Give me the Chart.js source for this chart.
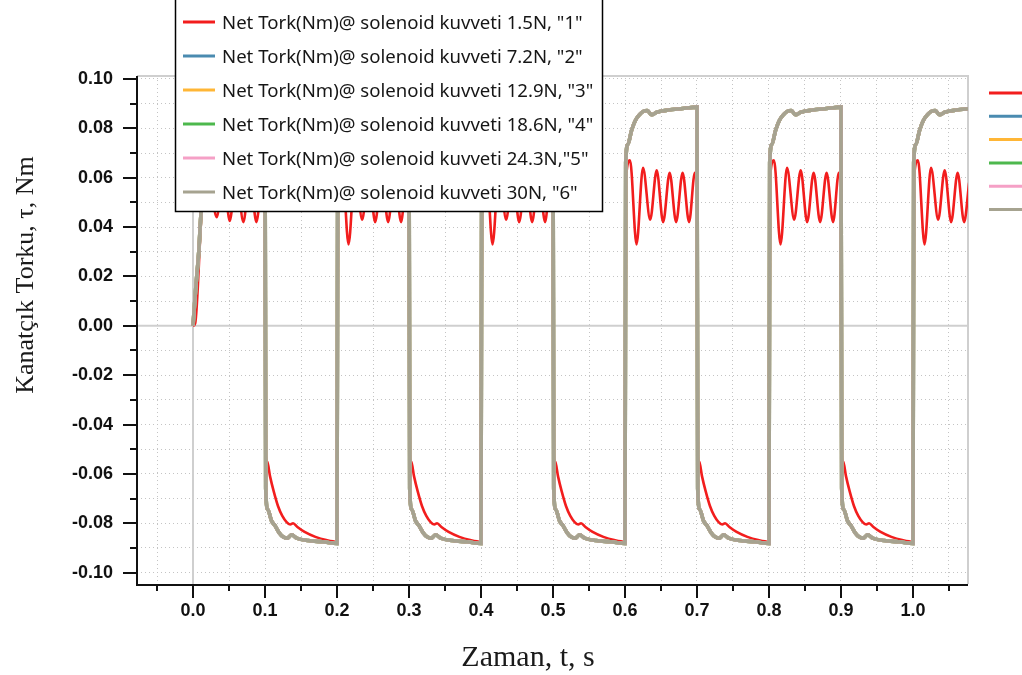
<!DOCTYPE html>
<html>
<head>
<meta charset="utf-8">
<script src="https://cdn.jsdelivr.net/npm/chart.js@4.4.0/dist/chart.umd.min.js"></script>
<style>
  html, body { margin: 0; padding: 0; background: #fff; }
  #wrap { width: 1022px; height: 675px; }
</style>
</head>
<body>
<div id="wrap"><canvas id="chart" width="1022" height="675"></canvas></div>
<script>
// Veriler
const seriesLabels = [
    'Net Tork(Nm)@ solenoid kuvveti 1.5N, "1"',
    'Net Tork(Nm)@ solenoid kuvveti 7.2N, "2"',
    'Net Tork(Nm)@ solenoid kuvveti 12.9N, "3"',
    'Net Tork(Nm)@ solenoid kuvveti 18.6N, "4"',
    'Net Tork(Nm)@ solenoid kuvveti 24.3N,"5"',
    'Net Tork(Nm)@ solenoid kuvveti 30N, "6"'
];

// 1.5N serisi: zaman (s)
const redTime = [
    0, 0.003, 0.012, 0.020, 0.033, 0.042, 0.051, 0.060, 0.070, 0.079, 0.088, 0.097, 0.100,
    0.1005, 0.103, 0.107, 0.112, 0.118, 0.124, 0.130, 0.135, 0.139, 0.145, 0.155, 0.170, 0.185, 0.200,
    0.2015, 0.207, 0.216, 0.225, 0.235, 0.244, 0.253, 0.262, 0.271, 0.280, 0.289, 0.297, 0.300,
    0.3005, 0.303, 0.307, 0.312, 0.318, 0.324, 0.330, 0.335, 0.339, 0.345, 0.355, 0.370, 0.385, 0.400,
    0.4015, 0.407, 0.416, 0.425, 0.435, 0.444, 0.453, 0.462, 0.471, 0.480, 0.489, 0.497, 0.500,
    0.5005, 0.503, 0.507, 0.512, 0.518, 0.524, 0.530, 0.535, 0.539, 0.545, 0.555, 0.570, 0.585, 0.600,
    0.6015, 0.607, 0.616, 0.625, 0.635, 0.644, 0.653, 0.662, 0.671, 0.680, 0.689, 0.697, 0.700,
    0.7005, 0.703, 0.707, 0.712, 0.718, 0.724, 0.730, 0.735, 0.739, 0.745, 0.755, 0.770, 0.785, 0.800,
    0.8015, 0.807, 0.816, 0.825, 0.835, 0.844, 0.853, 0.862, 0.871, 0.880, 0.889, 0.897, 0.900,
    0.9005, 0.903, 0.907, 0.912, 0.918, 0.924, 0.930, 0.935, 0.939, 0.945, 0.955, 0.970, 0.985, 1.000,
    1.0015, 1.007, 1.016, 1.025, 1.035, 1.044, 1.053, 1.062, 1.071, 1.078
];
// 1.5N serisi: tork (Nm)
const redTorque = [
    0, 0.001, 0.046, 0.064, 0.044, 0.063, 0.0425, 0.062, 0.042, 0.062, 0.042, 0.062, 0.058,
    -0.050, -0.055, -0.061, -0.067, -0.073, -0.077, -0.0795, -0.0805, -0.0800, -0.0815, -0.0835, -0.0855, -0.0868, -0.0875,
    0.060, 0.067, 0.033, 0.064, 0.043, 0.063, 0.042, 0.062, 0.042, 0.062, 0.042, 0.062, 0.058,
    -0.050, -0.055, -0.061, -0.067, -0.073, -0.077, -0.0795, -0.0805, -0.0800, -0.0815, -0.0835, -0.0855, -0.0868, -0.0875,
    0.060, 0.067, 0.033, 0.064, 0.043, 0.063, 0.042, 0.062, 0.042, 0.062, 0.042, 0.062, 0.058,
    -0.050, -0.055, -0.061, -0.067, -0.073, -0.077, -0.0795, -0.0805, -0.0800, -0.0815, -0.0835, -0.0855, -0.0868, -0.0875,
    0.060, 0.067, 0.033, 0.064, 0.043, 0.063, 0.042, 0.062, 0.042, 0.062, 0.042, 0.062, 0.058,
    -0.050, -0.055, -0.061, -0.067, -0.073, -0.077, -0.0795, -0.0805, -0.0800, -0.0815, -0.0835, -0.0855, -0.0868, -0.0875,
    0.060, 0.067, 0.033, 0.064, 0.043, 0.063, 0.042, 0.062, 0.042, 0.062, 0.042, 0.062, 0.058,
    -0.050, -0.055, -0.061, -0.067, -0.073, -0.077, -0.0795, -0.0805, -0.0800, -0.0815, -0.0835, -0.0855, -0.0868, -0.0875,
    0.060, 0.067, 0.033, 0.064, 0.043, 0.063, 0.042, 0.062, 0.042, 0.058
];

// 7.2N ... 30N serileri neredeyse üst üste: zaman (s)
const grayTime = [
    0, 0.004, 0.008, 0.011, 0.016, 0.021, 0.027, 0.033, 0.040, 0.046, 0.052, 0.060, 0.075, 0.100,
    0.101, 0.104, 0.109, 0.114, 0.120, 0.125, 0.131, 0.137, 0.144, 0.160, 0.180, 0.200,
    0.201, 0.204, 0.209, 0.214, 0.220, 0.226, 0.231, 0.237, 0.244, 0.260, 0.280, 0.300,
    0.301, 0.304, 0.309, 0.314, 0.320, 0.325, 0.331, 0.337, 0.344, 0.360, 0.380, 0.400,
    0.401, 0.404, 0.409, 0.414, 0.420, 0.426, 0.431, 0.437, 0.444, 0.460, 0.480, 0.500,
    0.501, 0.504, 0.509, 0.514, 0.520, 0.525, 0.531, 0.537, 0.544, 0.560, 0.580, 0.600,
    0.601, 0.604, 0.609, 0.614, 0.620, 0.626, 0.631, 0.637, 0.644, 0.660, 0.680, 0.700,
    0.701, 0.704, 0.709, 0.714, 0.720, 0.725, 0.731, 0.737, 0.744, 0.760, 0.780, 0.800,
    0.801, 0.804, 0.809, 0.814, 0.820, 0.826, 0.831, 0.837, 0.844, 0.860, 0.880, 0.900,
    0.901, 0.904, 0.909, 0.914, 0.920, 0.925, 0.931, 0.937, 0.944, 0.960, 0.980, 1.000,
    1.001, 1.004, 1.009, 1.014, 1.020, 1.026, 1.031, 1.037, 1.044, 1.060, 1.080
];
// 7.2N ... 30N serileri: tork (Nm)
const grayTorque = [
    0, 0.016, 0.030, 0.045, 0.058, 0.068, 0.076, 0.081, 0.085, 0.087, 0.0856, 0.0866, 0.0876, 0.0885,
    -0.066, -0.0745, -0.079, -0.081, -0.084, -0.0855, -0.086, -0.0847, -0.086, -0.087, -0.0875, -0.0882,
    0.066, 0.0735, 0.079, 0.083, 0.0855, 0.087, 0.0872, 0.0855, 0.0865, 0.0874, 0.0880, 0.0886,
    -0.066, -0.0745, -0.079, -0.081, -0.084, -0.0855, -0.086, -0.0847, -0.086, -0.087, -0.0875, -0.0882,
    0.066, 0.0735, 0.079, 0.083, 0.0855, 0.087, 0.0872, 0.0855, 0.0865, 0.0874, 0.0880, 0.0886,
    -0.066, -0.0745, -0.079, -0.081, -0.084, -0.0855, -0.086, -0.0847, -0.086, -0.087, -0.0875, -0.0882,
    0.066, 0.0735, 0.079, 0.083, 0.0855, 0.087, 0.0872, 0.0855, 0.0865, 0.0874, 0.0880, 0.0886,
    -0.066, -0.0745, -0.079, -0.081, -0.084, -0.0855, -0.086, -0.0847, -0.086, -0.087, -0.0875, -0.0882,
    0.066, 0.0735, 0.079, 0.083, 0.0855, 0.087, 0.0872, 0.0855, 0.0865, 0.0874, 0.0880, 0.0886,
    -0.066, -0.0745, -0.079, -0.081, -0.084, -0.0855, -0.086, -0.0847, -0.086, -0.087, -0.0875, -0.0882,
    0.066, 0.0735, 0.079, 0.083, 0.0855, 0.087, 0.0872, 0.0855, 0.0865, 0.0874, 0.0880
];

// Eksen etiketleri
const yTickLabels = ['-0.10', '-0.08', '-0.06', '-0.04', '-0.02', '0.00', '0.02', '0.04', '0.06', '0.08', '0.10'];
const yMinorTicks = [-0.09, -0.07, -0.05, -0.03, -0.01, 0.01, 0.03, 0.05, 0.07, 0.09];
const xTickLabels = ['0.0', '0.1', '0.2', '0.3', '0.4', '0.5', '0.6', '0.7', '0.8', '0.9', '1.0'];
const xMinorTicks = [-0.05, 0.05, 0.15, 0.25, 0.35, 0.45, 0.55, 0.65, 0.75, 0.85, 0.95, 1.05];
const yTitle = 'Kanatçık Torku, τ, Nm';
const xTitle = 'Zaman, t, s';

// Renkler
const seriesColors = ['#f21d1d', '#4a8bb0', '#ffb636', '#4db84d', '#f5a0c6', '#a6a390'];

const toPoints = (ts, vs) => ts.map((t, i) => ({ x: t, y: vs[i] }));
const redPoints = toPoints(redTime, redTorque);
const grayPoints = toPoints(grayTime, grayTorque);

const datasets = seriesLabels.map((label, i) => ({
    label: label,
    data: i === 0 ? redPoints : grayPoints,
    borderColor: seriesColors[i],
    backgroundColor: seriesColors[i],
    borderWidth: i === 0 ? 2.6 : 3.6,
    pointRadius: 0,
    cubicInterpolationMode: 'monotone',
    order: 6 - i // gri en üstte
}));

const isMajor = (v, labels) => labels.some(l => Math.abs(parseFloat(l) - v) < 1e-9);

// Eksenler, başlıklar ve lejant
const decorPlugin = {
    id: 'decor',
    beforeDatasetsDraw(chart) {
        const { ctx, chartArea: a, scales } = chart;
        const x0 = scales.x.getPixelForValue(0);
        const y0 = scales.y.getPixelForValue(0);
        ctx.save();
        ctx.strokeStyle = '#cfcfcf';
        ctx.lineWidth = 2;
        ctx.beginPath();
        ctx.moveTo(a.left, y0); ctx.lineTo(a.right, y0);
        ctx.moveTo(x0, a.top); ctx.lineTo(x0, a.bottom);
        // üst ve sağ çerçeve
        ctx.moveTo(a.left, a.top); ctx.lineTo(a.right, a.top); ctx.lineTo(a.right, a.bottom);
        ctx.stroke();
        ctx.restore();
    },
    afterDraw(chart) {
        const { ctx, chartArea: a, scales } = chart;
        ctx.save();

        // eksen çizgileri
        ctx.strokeStyle = '#111';
        ctx.lineWidth = 2;
        ctx.beginPath();
        ctx.moveTo(a.left, a.top); ctx.lineTo(a.left, a.bottom + 1); ctx.lineTo(a.right, a.bottom + 1);
        ctx.stroke();

        // tik işaretleri
        ctx.lineWidth = 2;
        ctx.beginPath();
        yTickLabels.forEach(l => {
            const p = Math.round(scales.y.getPixelForValue(parseFloat(l)));
            ctx.moveTo(a.left - 14, p); ctx.lineTo(a.left, p);
        });
        yMinorTicks.forEach(v => {
            const p = Math.round(scales.y.getPixelForValue(v));
            ctx.moveTo(a.left - 7, p); ctx.lineTo(a.left, p);
        });
        xTickLabels.forEach(l => {
            const p = Math.round(scales.x.getPixelForValue(parseFloat(l)));
            ctx.moveTo(p, a.bottom); ctx.lineTo(p, a.bottom + 14);
        });
        xMinorTicks.forEach(v => {
            const p = Math.round(scales.x.getPixelForValue(v));
            ctx.moveTo(p, a.bottom); ctx.lineTo(p, a.bottom + 7);
        });
        ctx.stroke();

        // eksen başlıkları
        ctx.fillStyle = '#1a1a1a';
        ctx.font = '30px "Liberation Serif", "Times New Roman", serif';
        ctx.textAlign = 'center';
        ctx.textBaseline = 'alphabetic';
        ctx.fillText(xTitle, 528, 666);

        ctx.save();
        ctx.translate(33, 275);
        ctx.rotate(-Math.PI / 2);
        ctx.font = '26px "Liberation Serif", "Times New Roman", serif';
        ctx.fillText(yTitle, 0, 0);
        ctx.restore();

        // lejant kutusu
        const box = { left: 175.5, top: -2, right: 602.5, bottom: 211.5 };
        ctx.fillStyle = '#fff';
        ctx.fillRect(box.left, box.top, box.right - box.left, box.bottom - box.top);
        ctx.strokeStyle = '#000';
        ctx.lineWidth = 1.5;
        ctx.strokeRect(box.left, box.top, box.right - box.left, box.bottom - box.top);

        ctx.font = '18.6px "Noto Sans", "DejaVu Sans", sans-serif';
        ctx.textAlign = 'left';
        chart.data.datasets.forEach((ds, i) => {
            const cy = 22 + i * 34;
            ctx.strokeStyle = ds.borderColor;
            ctx.lineWidth = 3;
            ctx.beginPath();
            ctx.moveTo(183, cy); ctx.lineTo(215, cy);
            ctx.stroke();
            ctx.fillStyle = '#161616';
            ctx.fillText(ds.label, 222, cy + 6.5);

            // sağdaki kesik lejant
            const ry = 93 + i * 23.3;
            ctx.beginPath();
            ctx.moveTo(989, ry); ctx.lineTo(1022, ry);
            ctx.stroke();
        });

        ctx.restore();
    }
};

new Chart(document.getElementById('chart'), {
    type: 'line',
    data: { datasets: datasets },
    options: {
        responsive: false,
        animation: false,
        layout: { padding: { top: 76, right: 54, left: 0, bottom: 0 } },
        plugins: { legend: { display: false }, tooltip: { enabled: false } },
        scales: {
            x: {
                type: 'linear',
                min: -0.0778,
                max: 1.0764,
                afterFit: s => { s.height = 91; },
                afterBuildTicks: s => {
                    s.ticks = xTickLabels.map(l => parseFloat(l)).concat(xMinorTicks)
                        .sort((p, q) => p - q).map(v => ({ value: v }));
                },
                grid: { color: '#c4c4c4', lineWidth: 1, drawTicks: false },
                border: { display: false, dash: [1, 3] },
                ticks: {
                    autoSkip: false,
                    maxRotation: 0,
                    padding: 16,
                    color: '#111',
                    font: { family: '"Liberation Sans", Arial, sans-serif', size: 18, weight: 'bold' },
                    callback: v => isMajor(v, xTickLabels) ? xTickLabels.find(l => Math.abs(parseFloat(l) - v) < 1e-9) : ''
                }
            },
            y: {
                type: 'linear',
                min: -0.1046,
                max: 0.1012,
                afterFit: s => { s.width = 137; },
                afterBuildTicks: s => {
                    s.ticks = yTickLabels.map(l => parseFloat(l)).concat(yMinorTicks)
                        .sort((p, q) => p - q).map(v => ({ value: v }));
                },
                grid: { color: '#c4c4c4', lineWidth: 1, drawTicks: false },
                border: { display: false, dash: [1, 3] },
                ticks: {
                    autoSkip: false,
                    padding: 24,
                    color: '#111',
                    font: { family: '"Liberation Sans", Arial, sans-serif', size: 18, weight: 'bold' },
                    callback: v => isMajor(v, yTickLabels) ? yTickLabels.find(l => Math.abs(parseFloat(l) - v) < 1e-9) : ''
                }
            }
        }
    },
    plugins: [decorPlugin]
});
</script>
</body>
</html>
